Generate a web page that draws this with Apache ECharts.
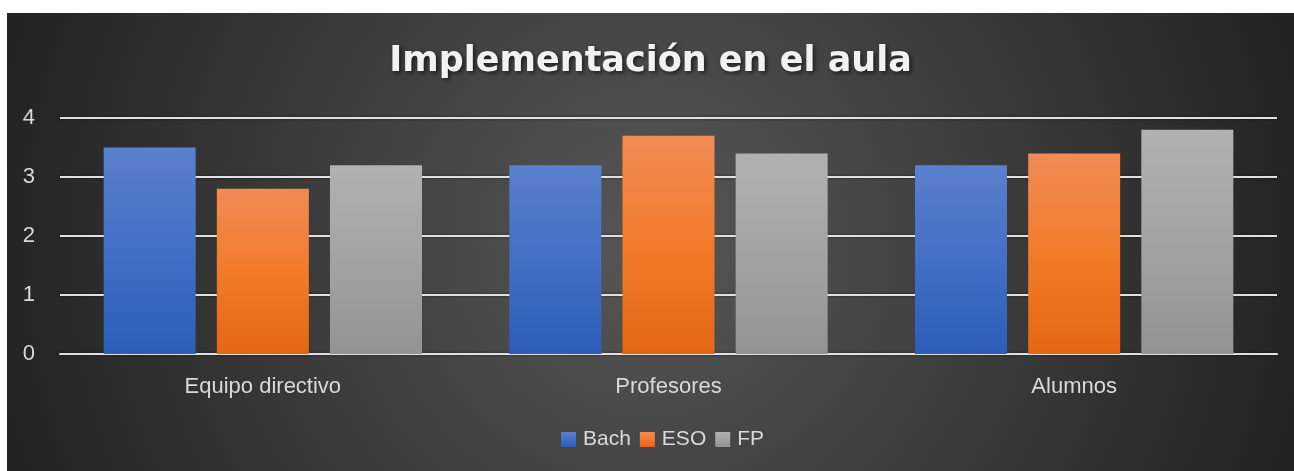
<!DOCTYPE html>
<html>
<head>
<meta charset="utf-8">
<script src="https://cdn.jsdelivr.net/npm/echarts@6/dist/echarts.min.js"></script>
<style>
    html, body { margin:0; padding:0; background:#ffffff; }
    #chart { position:absolute; left:7px; top:13px; width:1287px; height:458px; }
</style>
</head>
<body>
<div id="chart"></div>
<script>

const categories = ["Equipo directivo", "Profesores", "Alumnos"];
const bach = [3.5, 3.2, 3.2];
const eso = [2.8, 3.7, 3.4];
const fp = [3.2, 3.4, 3.8];
const yTicks = [0, 1, 2, 3, 4];


/*
==========================
Colours
==========================
*/

function vGrad(top, mid, bottom){
    return new echarts.graphic.LinearGradient(0, 0, 0, 1, [
        {offset:0, color:top},
        {offset:0.5, color:mid},
        {offset:1, color:bottom}
    ]);
}

const blueFill = vGrad("#5b80cc", "#436fc6", "#2c5db8");
const orangeFill = vGrad("#f08b55", "#f27b2a", "#e46614");
const grayFill = vGrad("#b1b1b1", "#a3a3a3", "#939393");

const labelColor = "#d9d9d9";
const font = "'Liberation Sans', Arial, sans-serif";


const chart = echarts.init(document.getElementById("chart"));

function barSeries(name, data, fill){
    return {
        name:name,
        type:"bar",
        data:data,
        barWidth:92,
        barGap:"23%",
        itemStyle:{
            color:fill,
            shadowColor:"rgba(0,0,0,0.55)",
            shadowBlur:10,
            shadowOffsetX:2,
            shadowOffsetY:1
        }
    };
}

chart.setOption({

    backgroundColor:new echarts.graphic.RadialGradient(0.5, 0.5, 1.45, [
        {offset:0, color:"#575757"},
        {offset:1, color:"#232323"}
    ]),

    title:{
        text:"Implementación en el aula",
        left:"center",
        top:26,
        textStyle:{
            color:"#f2f2f2",
            fontFamily:"'DejaVu Sans', sans-serif",
            fontWeight:"bold",
            fontSize:35,
            textShadowColor:"rgba(0,0,0,0.6)",
            textShadowBlur:4,
            textShadowOffsetX:2,
            textShadowOffsetY:2
        }
    },

    legend:{
        data:["Bach", "ESO", "FP"],
        top:411,
        left:549,
        icon:"rect",
        itemWidth:15,
        itemHeight:15,
        itemGap:9,
        textStyle:{
            color:labelColor,
            fontFamily:font,
            fontSize:21,
            padding:[0, 0, 0, 2]
        }
    },

    grid:{
        left:53,
        right:17,
        top:105,
        bottom:117
    },

    xAxis:{
        type:"category",
        data:categories,
        axisTick:{show:false},
        axisLine:{
            lineStyle:{color:"#e0e0e0", width:2}
        },
        axisLabel:{
            color:labelColor,
            fontFamily:font,
            fontSize:22,
            margin:22
        }
    },

    yAxis:{
        type:"value",
        min:yTicks[0],
        max:yTicks[yTicks.length-1],
        interval:1,
        axisLine:{show:false},
        axisTick:{show:false},
        axisLabel:{
            color:labelColor,
            fontFamily:font,
            fontSize:22,
            margin:25
        },
        splitLine:{
            lineStyle:{
                color:"#e0e0e0",
                width:2,
                shadowColor:"rgba(0,0,0,0.5)",
                shadowBlur:3
            }
        }
    },

    series:[
        barSeries("Bach", bach, blueFill),
        barSeries("ESO", eso, orangeFill),
        barSeries("FP", fp, grayFill)
    ]

});

</script>
</body>
</html>
